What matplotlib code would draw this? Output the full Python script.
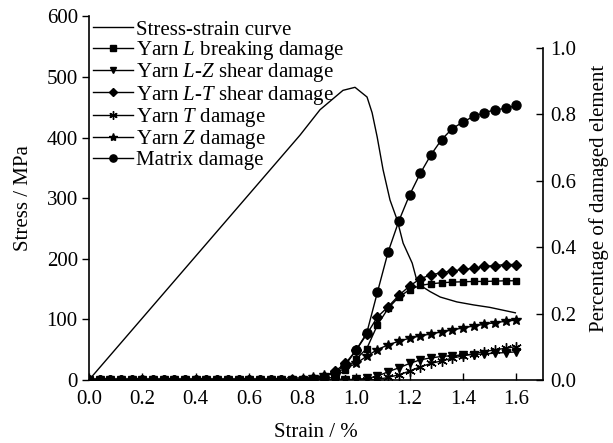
import matplotlib
matplotlib.use('Agg')
import matplotlib.pyplot as plt
import numpy as np

plt.rcParams['font.family'] = 'Liberation Serif'
plt.rcParams['mathtext.fontset'] = 'custom'
plt.rcParams['mathtext.rm'] = 'Liberation Serif'
plt.rcParams['mathtext.it'] = 'Liberation Serif:italic'
plt.rcParams['font.size'] = 15

# Stress-strain curve
strain_s = [0.0, 0.79, 0.865, 0.951, 0.996, 1.041, 1.06, 1.079, 1.101, 1.127,
            1.154, 1.176, 1.21, 1.227, 1.252, 1.277, 1.315, 1.377, 1.44, 1.50, 1.596]
stress = [0, 404, 446, 478, 483, 467, 441, 401, 347, 297,
          264, 226, 193, 165, 153, 146, 137, 129, 124, 120, 111]

# Damage percentages, sampled every 0.04 strain (0 ... 1.6)
strain_d = np.round(np.arange(41) * 0.04, 2)
yarn_L = [0, 0, 0, 0, 0, 0, 0, 0, 0, 0, 0, 0, 0, 0, 0, 0, 0, 0, 0, 0, 0, 0,
          0.003, 0.01, 0.03, 0.063, 0.095, 0.166, 0.216, 0.25, 0.272, 0.285,
          0.29, 0.293, 0.295, 0.296, 0.297, 0.297, 0.298, 0.299, 0.299]
yarn_LZ = [0, 0, 0, 0, 0, 0, 0, 0, 0, 0, 0, 0, 0, 0, 0, 0, 0, 0, 0, 0, 0, 0,
           0, 0, 0, 0.002, 0.005, 0.012, 0.025, 0.037, 0.05, 0.061,
           0.067, 0.071, 0.074, 0.075, 0.077, 0.079, 0.081, 0.083, 0.085]
yarn_LT = [0, 0, 0, 0, 0, 0, 0, 0, 0, 0, 0, 0, 0, 0, 0, 0, 0, 0, 0, 0, 0, 0.003,
           0.01, 0.026, 0.05, 0.09, 0.138, 0.19, 0.221, 0.255, 0.283, 0.305,
           0.317, 0.323, 0.329, 0.333, 0.337, 0.342, 0.345, 0.348, 0.348]
yarn_T = [0, 0, 0, 0, 0, 0, 0, 0, 0, 0, 0, 0, 0, 0, 0, 0, 0, 0, 0, 0, 0, 0,
          0, 0, 0, 0, 0, 0.002, 0.008, 0.016, 0.027, 0.04,
          0.05, 0.058, 0.066, 0.073, 0.08, 0.086, 0.091, 0.096, 0.101]
yarn_Z = [0, 0, 0, 0, 0, 0, 0, 0, 0, 0, 0, 0, 0, 0, 0, 0, 0, 0, 0, 0.002, 0.004, 0.008,
          0.014, 0.022, 0.035, 0.05, 0.072, 0.092, 0.106, 0.117, 0.126, 0.133,
          0.139, 0.145, 0.151, 0.157, 0.163, 0.168, 0.173, 0.177, 0.181]
matrix = [0, 0, 0, 0, 0, 0, 0, 0, 0, 0, 0, 0, 0, 0, 0, 0, 0, 0, 0, 0, 0, 0.004,
          0.01, 0.022, 0.045, 0.09, 0.142, 0.265, 0.386, 0.479, 0.557, 0.622,
          0.678, 0.724, 0.757, 0.777, 0.794, 0.805, 0.814, 0.818, 0.827]

fig = plt.figure(figsize=(6.13, 4.43), dpi=100)
ax = fig.add_axes([0.145, 0.142, 0.741, 0.821])
ax2 = ax.twinx()

lw = 1.0
h0, = ax.plot(strain_s, stress, color='black', lw=lw, label='Stress-strain curve')
h1, = ax2.plot(strain_d, yarn_L, color='black', lw=lw, marker='s', ms=5,
               label=r'Yarn $\mathit{L}$ breaking damage')
h2, = ax2.plot(strain_d, yarn_LZ, color='black', lw=lw, marker='v', ms=6,
               label=r'Yarn $\mathit{L}$-$\mathit{Z}$ shear damage')
h3, = ax2.plot(strain_d, yarn_LT, color='black', lw=lw, marker='D', ms=5,
               label=r'Yarn $\mathit{L}$-$\mathit{T}$ shear damage')
h4, = ax2.plot(strain_d, yarn_T, color='black', lw=lw, marker=(6, 2, 0), ms=7.5,
               mew=1.0, label=r'Yarn $\mathit{T}$ damage')
h5, = ax2.plot(strain_d, yarn_Z, color='black', lw=lw, marker='*', ms=7.5,
               label=r'Yarn $\mathit{Z}$ damage')
h6, = ax2.plot(strain_d, matrix, color='black', lw=lw, marker='o', ms=6.5,
               label='Matrix damage')

ax.set_xlim(0, 1.7)
ax.set_ylim(0, 600)
ax2.set_ylim(0, 1.095)
ax.set_xticks([0.0, 0.2, 0.4, 0.6, 0.8, 1.0, 1.2, 1.4, 1.6])
ax.set_xticklabels(['0.0', '0.2', '0.4', '0.6', '0.8', '1.0', '1.2', '1.4', '1.6'])
ax.set_yticks([0, 100, 200, 300, 400, 500, 600])
ax2.set_yticks([0.0, 0.2, 0.4, 0.6, 0.8, 1.0])
ax2.set_yticklabels(['0.0', '0.2', '0.4', '0.6', '0.8', '1.0'])

for a in (ax, ax2):
    a.spines['top'].set_visible(False)
    for s in a.spines.values():
        s.set_linewidth(1.2)
ax.spines['right'].set_visible(False)
ax2.spines['left'].set_visible(False)
ax2.spines['bottom'].set_visible(False)
ax2.spines['right'].set_bounds(0, 1.0)

ax.tick_params(axis='y', direction='out', length=5, width=1.0, pad=3)
ax.tick_params(axis='x', direction='in', length=5, width=1.0, pad=7)
ax2.tick_params(axis='y', direction='in', length=5, width=1.0, pad=5)

ax.set_xlabel('Strain / %', labelpad=10)
ax.set_ylabel('Stress / MPa', labelpad=10)
ax2.set_ylabel('Percentage of damaged element', labelpad=9.5)

ax2.legend(handles=[h0, h1, h2, h3, h4, h5, h6], loc='upper left',
           bbox_to_anchor=(0.008, 0.99), frameon=False, borderpad=0,
           borderaxespad=0, labelspacing=-0.03, handlelength=1.95,
           handletextpad=0.15, markerscale=0.8)

fig.savefig('out.png', dpi=100)
